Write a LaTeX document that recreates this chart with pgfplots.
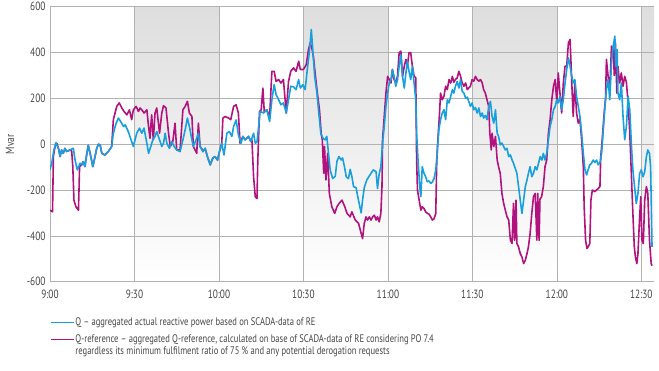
\documentclass[border=0pt]{standalone}
\usepackage{fontspec}
\setmainfont{PT Sans}[FakeStretch=0.78]
\usepackage{pgfplots}
\pgfplotsset{compat=1.18}
\usepackage{pgfplotstable}
\definecolor{qblue}{RGB}{24,160,222}
\definecolor{qmag}{RGB}{178,18,126}
\definecolor{txt}{RGB}{70,70,70}

\pgfplotstableread{
t v
0 -112
0.6 -83
1.4 -25
2.1 7
3.0 -18
3.6 -54
4.1 -25
4.7 -40
5.3 -18
5.9 -32
7.1 -25
8.3 -18
8.9 -69
9.7 -112
10.7 -83
11.3 -90
11.8 -76
12.4 -98
13.0 -47
13.6 -5
14.5 -54
15.2 -98
16.0 -54
16.6 -18
17.2 0
17.8 -3
18.4 -40
19.5 -47
20.7 -32
21.9 -10
22.5 48
23.5 92
24.3 114
25.1 99
26.1 77
26.7 85
27.8 55
28.8 19
29.6 -10
30.2 19
30.8 48
31.8 70
32.6 48
33.4 70
34.4 4
35.0 -40
35.8 -10
36.5 19
37.3 34
37.9 55
38.9 19
39.7 -10
40.3 4
40.9 48
41.5 4
42.4 -18
43.2 12
44.1 -10
45.0 -25
46.2 -32
47.2 19
48.0 63
48.8 114
49.5 77
50.4 19
50.9 -10
51.9 19
52.7 48
53.3 -10
54.3 -32
55.1 -18
55.9 -54
56.9 -90
57.8 -61
58.6 -54
59.5 -69
60.2 -32
61.0 4
61.8 -47
62.8 48
63.7 55
64.6 34
65.2 77
66.1 106
66.9 41
67.8 4
68.5 34
69.3 19
70.5 34
71.3 12
72.3 48
72.9 4
73.5 10
74.1 77
74.6 143
75.8 136
77.0 150
78.0 99
78.8 194
79.6 260
80.3 216
81.2 194
82.0 172
82.9 180
83.9 136
84.7 194
85.5 253
86.5 250
87.4 238
88.3 282
88.9 245
89.8 260
90.6 238
91.5 340
92.2 413
92.8 500
93.4 398
94.0 296
94.8 223
95.5 130
96.2 45
97.0 25
97.7 19
98.3 34
98.9 -40
99.5 -112
100.4 -150
101.3 -140
101.9 -75
102.6 -54
103.4 -69
103.9 -60
104.6 -100
105.2 -142
106.0 -150
106.6 -110
107.2 -140
107.8 -185
108.7 -190
109.3 -229
109.9 -265
110.5 -300
111.0 -244
111.6 -190
112.5 -156
113.2 -142
114.0 -127
114.8 -112
115.8 -120
116.3 -193
116.9 -130
117.5 -98
118.1 4
118.7 77
119.3 165
119.9 223
120.5 267
121.1 282
121.6 326
122.2 296
122.8 253
123.4 282
124.0 340
124.6 391
125.2 296
125.8 245
126.4 311
126.9 362
127.5 318
128.1 282
128.7 340
129.3 267
129.9 194
130.2 48
130.7 -69
131.3 -185
131.7 -229
132.2 -98
132.8 -127
133.4 -142
134.0 -164
134.6 -160
135.2 -171
135.8 -165
136.4 -150
137.0 -112
137.6 -25
138.1 63
138.7 107
139.3 136
139.9 150
140.5 107
141.1 194
141.7 180
142.3 209
142.9 238
143.4 223
144.0 253
144.6 274
145.2 245
145.8 282
146.4 230
147.0 223
147.6 201
148.2 205
148.7 187
149.3 165
149.9 180
150.5 150
151.1 160
151.7 136
152.3 158
152.9 121
153.5 136
154.0 114
154.6 125
155.2 107
155.8 165
156.4 187
157.0 121
157.6 92
158.2 150
158.8 48
159.3 34
159.9 -3
160.5 5
161.1 -10
161.7 -25
162.3 -18
162.9 -54
163.5 -47
164.1 -69
164.6 -83
165.2 -105
165.8 -127
166.4 -185
167.0 -244
167.6 -302
168.2 -244
168.8 -185
169.4 -156
169.9 -127
170.5 -98
171.1 -142
171.7 -127
172.3 -98
172.9 -112
173.5 -83
174.1 -54
174.7 -69
175.2 -40
175.8 -69
176.4 -40
177.0 19
177.6 77
178.2 107
178.8 150
179.4 165
180.0 194
180.5 180
181.1 209
181.7 150
182.3 195
182.9 267
183.5 326
184.1 377
184.7 340
185.3 296
185.8 267
186.4 282
187.0 209
187.6 165
188.2 121
188.8 48
189.4 -40
190.0 -112
190.6 -134
191.1 -112
191.7 -90
192.3 -83
192.9 -69
193.5 -80
194.1 -69
194.7 -90
195.3 -80
195.9 -40
196.4 48
197.0 150
197.6 238
198.2 282
198.8 194
199.4 355
200.0 428
200.6 472
200.9 340
201.4 413
201.7 223
202.3 194
202.9 267
203.5 121
204.1 19
204.7 77
205.3 209
205.9 150
206.5 -10
207.0 -112
207.6 -185
208.2 -259
208.8 -215
209.4 -127
210.0 -112
210.6 -142
211.2 -120
211.8 -54
212.3 -25
212.9 -40
213.3 -100
213.8 -448
}\qactual

\pgfplotstableread{
t v
0 -288
0.9 -295
1.2 -54
1.8 -10
2.4 4
3.0 -18
3.6 -54
4.1 -25
4.7 -40
5.3 -18
5.9 -32
7.1 -25
7.7 -30
8.1 -98
8.5 -244
9.2 -273
10.1 -288
10.3 -200
10.5 -98
11.3 -90
11.8 -76
12.4 -98
13.0 -47
13.6 -5
14.5 -54
15.2 -98
16.0 -54
16.6 -18
17.2 0
17.8 -3
18.4 -40
19.5 -47
20.7 -32
21.9 -10
22.5 107
23.7 165
24.6 180
25.5 158
26.3 143
27.3 128
28.2 150
29.0 107
29.6 150
30.6 165
31.4 143
32.0 158
32.6 150
33.4 136
34.4 150
35.0 77
35.5 26
36.1 128
36.7 19
37.3 136
37.9 158
38.9 48
39.7 136
40.3 168
41.2 158
42.1 48
42.7 -10
43.6 10
44.4 92
45.0 -25
46.2 -25
47.2 150
48.0 165
48.8 187
49.5 136
50.4 121
50.9 -10
52.1 -40
52.7 92
53.3 -10
53.9 -20
54.3 -32
55.1 -18
55.9 -54
56.9 -90
57.8 -61
58.6 -54
59.5 -69
60.2 -32
61.0 4
61.4 114
62.2 121
63.4 114
64.2 107
65.2 165
66.1 172
66.9 136
67.5 4
68.5 34
69.3 19
70.5 34
71.3 12
71.7 20
72.3 -142
72.9 -229
73.5 -237
73.8 -69
74.4 143
75.0 150
75.6 245
76.1 140
77.0 150
78.0 120
78.8 318
79.6 318
80.3 274
81.2 282
82.0 267
82.9 282
83.9 136
84.7 274
85.5 318
86.5 333
87.4 318
88.3 362
88.9 326
90.0 326
91.0 347
91.8 413
92.4 442
93.0 420
93.6 377
94.2 304
94.8 238
95.7 150
96.3 48
96.7 19
97.2 -127
97.5 -10
98.0 -156
98.6 -40
99.2 -215
100.1 -273
101.1 -302
101.9 -273
102.7 -258
103.7 -244
104.6 -270
105.5 -302
106.6 -317
107.2 -295
108.4 -331
109.6 -346
110.2 -375
111.0 -412
111.6 -346
112.2 -317
112.8 -331
113.4 -317
114.0 -331
114.6 -317
115.2 -310
115.8 -331
116.3 -317
116.9 -339
117.5 -302
117.9 -185
118.1 19
118.7 121
119.3 223
119.9 296
120.5 282
121.1 267
121.6 326
122.2 282
122.8 267
123.4 296
124.0 399
124.6 406
125.2 296
125.8 340
126.4 370
126.9 340
127.5 399
128.1 399
128.7 340
129.3 296
129.9 290
130.2 -69
130.5 -200
131.1 -244
131.7 -288
132.2 -273
132.8 -280
133.4 -295
134.0 -302
134.6 -305
135.2 -317
135.8 -331
136.4 -325
137.0 -302
137.3 -98
137.6 -10
137.9 48
138.4 150
138.7 223
139.3 194
139.9 209
140.5 253
141.1 238
141.7 282
142.3 267
142.9 296
143.4 270
144.0 282
144.6 289
145.2 318
145.8 296
146.4 267
147.0 253
147.6 267
148.2 238
148.7 245
149.3 253
149.9 282
150.5 275
151.1 296
151.7 282
152.3 275
152.9 282
153.5 267
154.0 238
154.6 223
155.2 194
155.8 165
156.2 48
156.7 -25
157.0 48
157.6 -10
158.2 34
158.8 -69
159.3 -98
159.9 -127
160.5 -215
161.1 -258
161.7 -288
162.3 -317
162.9 -331
163.5 -419
164.1 -433
164.6 -258
165.0 -420
165.5 -244
165.8 -433
166.4 -448
167.0 -477
167.6 -492
168.2 -521
168.8 -506
169.4 -477
169.9 -448
170.5 -390
171.1 -302
171.7 -229
172.3 -215
172.9 -419
173.2 -215
173.7 -420
174.0 -240
174.6 -229
175.2 -185
175.8 -98
176.4 -69
177.0 48
177.6 107
178.2 194
178.8 253
179.4 282
180.0 180
180.5 311
181.1 223
181.7 136
182.3 267
182.9 340
183.5 340
184.1 442
184.7 457
185.3 267
185.8 121
186.4 267
187.0 136
187.6 92
188.2 110
188.8 19
189.4 -98
189.7 -273
190.2 -419
190.7 -455
191.1 -448
191.7 -433
192.1 -244
192.6 -200
193.5 -207
194.1 -200
194.7 -193
195.3 -185
195.6 -54
196.1 19
196.8 136
197.3 200
197.6 370
198.2 296
198.8 238
199.4 428
200.0 413
200.4 300
200.8 442
201.3 223
201.7 340
202.3 267
202.9 311
203.5 253
204.1 296
204.7 270
205.3 180
205.9 48
206.5 -142
206.9 -273
207.5 -448
207.9 -492
208.4 -521
208.8 -477
209.4 -317
209.8 -229
210.2 -419
210.7 -433
211.2 -244
211.8 -185
212.3 -215
212.9 -419
213.5 -521
213.8 -530
}\qref

\begin{document}
\begin{tikzpicture}
\begin{axis}[
  set layers,
  scale only axis, width=604bp, height=275bp,
  at={(0,0)}, anchor=south west,
  xmin=0, xmax=214.5, ymin=-600, ymax=600,
  xtick={0,30,60,90,120,150,180,210},
  xticklabels={9:00,9:30,10:00,10:30,11:00,11:30,12:00,12:30},
  ytick={-600,-400,-200,0,200,400,600},
  grid=major,
  major grid style={black!30, line width=0.7bp},
  axis line style={draw=none},
  tick style={draw=none},
  ticklabel style={font=\fontsize{12}{13}\selectfont, text=txt},
  xticklabel style={yshift=-5bp},
  yticklabel style={xshift=-1bp},
  /pgf/number format/assume math mode=true,
  ylabel={Mvar},
  every axis y label/.style={at={(axis description cs:0,0.5)}, xshift=-40bp, rotate=90, anchor=center, font=\fontsize{12}{13}\selectfont, text=txt},
  reverse legend,
  legend cell align=left,
  legend image code/.code={\draw[#1] (0bp,0bp) -- (23bp,0bp);},
  legend style={at={(axis description cs:0,-0.127)}, anchor=north west, draw=none, fill=none, inner sep=0pt, row sep=5.5bp,
    font=\fontsize{11}{12.3}\selectfont, text=txt, cells={align=left}, nodes={inner sep=1bp}},
]
\begin{pgfonlayer}{axis background}
\fill[top color=black!13, bottom color=white] (axis cs:30,-600) rectangle (axis cs:60,600);
\fill[top color=black!13, bottom color=white] (axis cs:90,-600) rectangle (axis cs:120,600);
\fill[top color=black!13, bottom color=white] (axis cs:150,-600) rectangle (axis cs:180,600);
\fill[top color=black!13, bottom color=white] (axis cs:210,-600) rectangle (axis cs:214.5,600);
\end{pgfonlayer}
\addplot[qmag, line width=1.6bp, line join=round,
  legend image code/.code={\draw[qmag, line width=1.3bp] (0bp,6.2bp) -- (23bp,6.2bp);}] table[x=t, y=v] {\qref};
\addlegendentry{Q-reference – aggregated Q-reference, calculated on base of SCADA-data of RE considering PO 7.4\\regardless its minimum fulfilment ratio of 75 \% and any potential derogation requests}
\addplot[qblue, line width=1.6bp, line join=round,
  legend image code/.code={\draw[qblue, line width=1.3bp] (0bp,0bp) -- (23bp,0bp);}] table[x=t, y=v] {\qactual};
\addlegendentry{Q – aggregated actual reactive power based on SCADA-data of RE}
\end{axis}
\pgfresetboundingbox
\path[use as bounding box] (-50bp,-89.3bp) rectangle (609bp,281.7bp);
\end{tikzpicture}
\end{document}
